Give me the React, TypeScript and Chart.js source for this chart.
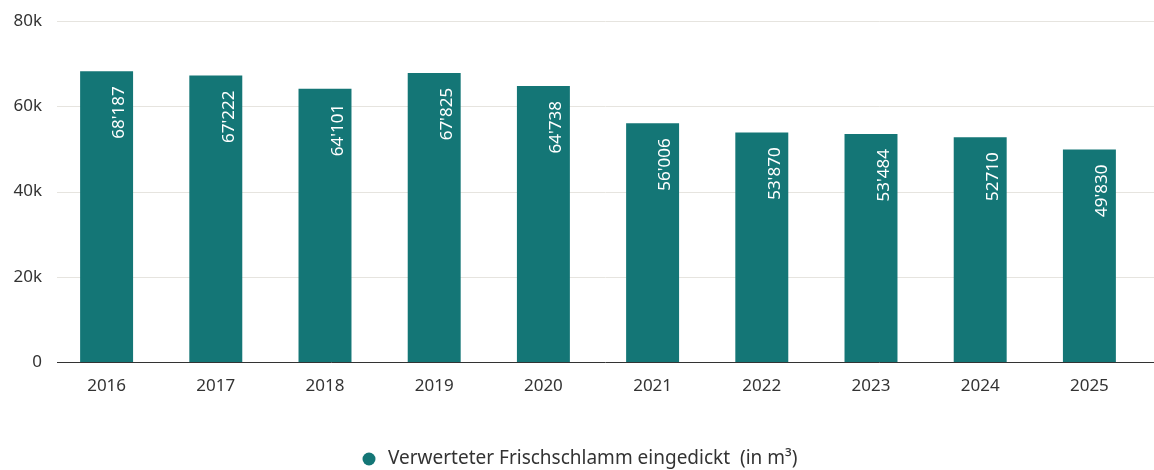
import React, { useEffect, useRef } from "react";
import { Chart, registerables } from "chart.js";

Chart.register(...registerables);

const categories = ["2016", "2017", "2018", "2019", "2020", "2021", "2022", "2023", "2024", "2025"];
const values = [68187, 67222, 64101, 67825, 64738, 56006, 53870, 53484, 52710, 49830];
const valueLabels = ["68'187", "67'222", "64'101", "67'825", "64'738", "56'006", "53'870", "53'484", "52710", "49'830"];
const seriesName = "Verwerteter Frischschlamm eingedickt  (in m³)";
const yTicks = [0, 20000, 40000, 60000, 80000];

const FONT = "'Noto Sans', sans-serif";
const BAR = "#147676";
const TEXT = "#333333";

export default function App() {
  const ref = useRef<HTMLCanvasElement | null>(null);
  useEffect(() => {
    if (!ref.current) return;
    const extras = {
      id: "extras",
      beforeDatasetsDraw(chart: any) {
        const ctx = chart.ctx;
        const y = chart.scales.y;
        ctx.save();
        ctx.strokeStyle = "#e6e4df";
        ctx.lineWidth = 1;
        for (const v of yTicks) {
          if (v === 0) continue;
          const py = Math.round(y.getPixelForValue(v)) + 0.5;
          ctx.beginPath();
          ctx.moveTo(57, py);
          ctx.lineTo(chart.width, py);
          ctx.stroke();
        }
        ctx.restore();
      },
      afterDatasetsDraw(chart: any) {
        const ctx = chart.ctx;
        const y = chart.scales.y;
        ctx.save();
        const py = Math.round(y.getPixelForValue(0)) + 0.5;
        ctx.strokeStyle = "#333333";
        ctx.lineWidth = 1;
        ctx.beginPath();
        ctx.moveTo(57, py);
        ctx.lineTo(chart.width, py);
        ctx.stroke();
        const meta = chart.getDatasetMeta(0);
        ctx.fillStyle = "#ffffff";
        ctx.font = `17px ${FONT}`;
        ctx.textAlign = "right";
        ctx.textBaseline = "middle";
        meta.data.forEach((bar: any, i: number) => {
          ctx.save();
          ctx.translate(bar.x + 13, bar.y + 15);
          ctx.rotate(-Math.PI / 2);
          ctx.fillText(valueLabels[i], 0, 0);
          ctx.restore();
        });
        // legend
        ctx.fillStyle = BAR;
        ctx.beginPath();
        ctx.arc(369, 459, 6.5, 0, Math.PI * 2);
        ctx.fill();
        ctx.fillStyle = TEXT;
        ctx.font = `19px ${FONT}`;
        ctx.textAlign = "left";
        ctx.textBaseline = "middle";
        ctx.fillText(seriesName, 388, 459);
        ctx.restore();
      },
    };
    const chart = new Chart(ref.current, {
      type: "bar",
      data: {
        labels: categories,
        datasets: [
          {
            label: seriesName,
            data: values,
            backgroundColor: BAR,
            barPercentage: 0.485,
            categoryPercentage: 1,
          },
        ],
      },
      options: {
        animation: false,
        responsive: false,
        maintainAspectRatio: false,
        layout: { padding: { top: 21, bottom: 68, left: 0, right: 10 } },
        plugins: { legend: { display: false }, tooltip: { enabled: false } },
        scales: {
          x: {
            grid: { display: false, drawTicks: false },
            border: { display: false },
            ticks: { color: TEXT, font: { family: FONT, size: 17 }, padding: 14 },
            afterFit(scale: any) {
              scale.height = 40;
            },
          },
          y: {
            min: 0,
            max: 80000,
            grid: { display: false, drawTicks: false },
            border: { display: false },
            ticks: {
              stepSize: 20000,
              color: TEXT,
              font: { family: FONT, size: 17 },
              padding: 10,
              callback: (v: any) => (v === 0 ? "0" : `${Number(v) / 1000}k`),
            },
            afterFit(scale: any) {
              scale.width = 52;
            },
          },
        },
      },
      plugins: [extras],
    });
    return () => chart.destroy();
  }, []);
  return (
    <div style={{ position: "fixed", left: 0, top: 0, width: 1154, height: 470, background: "#fff" }}>
      <canvas ref={ref} width={1154} height={470} style={{ width: 1154, height: 470 }} />
    </div>
  );
}
